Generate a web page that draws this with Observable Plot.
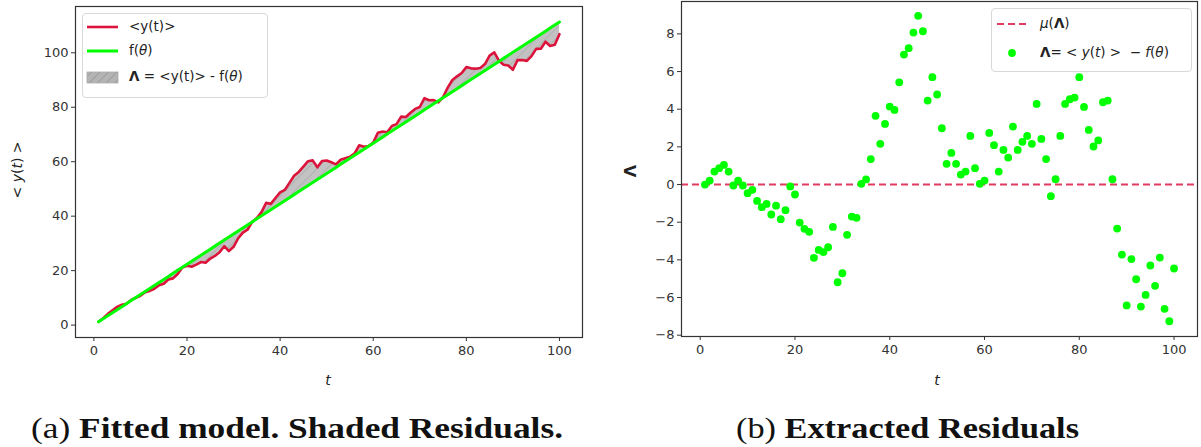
<!DOCTYPE html>
<html>
<head>
<meta charset="utf-8">
<script src="https://cdn.jsdelivr.net/npm/d3@7"></script>
<script src="https://cdn.jsdelivr.net/npm/@observablehq/plot@0.6"></script>
<style>
  html, body { margin: 0; padding: 0; background: #fff; }
  #wrap { position: relative; width: 1201px; height: 447px; overflow: hidden; font-family: "DejaVu Sans", sans-serif; color: #222; }
  .abs { position: absolute; }
  .legend { position: absolute; border: 1px solid #d8d8d8; border-radius: 4px; background: rgba(255,255,255,0.85); }
  .lt { position: absolute; font-size: 13.5px; white-space: nowrap; line-height: 1; }
  .cap { position: absolute; font-family: "Liberation Serif", serif; font-size: 29px; white-space: nowrap; line-height: 1; color: #111; transform-origin: 0 0; }
</style>
</head>
<body>
<div id="wrap"></div>
<script>
// ---- data ----
const tSteps = d3.range(1, 101);
// residuals Λ(t) = <y(t)> - f(θ)
const lambda = [
  0.00, 0.21, 0.69, 0.87, 1.04, 0.69, -0.05, 0.21, -0.05, -0.46,
  -0.28, -0.87, -1.20, -1.03, -1.59, -1.12, -1.84, -1.36, -0.10, -0.53,
  -2.02, -2.35, -2.51, -3.89, -3.47, -3.59, -3.33, -2.25, -5.19, -4.71,
  -2.67, -1.70, -1.77, 0.04, 0.27, 1.35, 3.65, 2.16, 3.22, 4.14,
  3.96, 5.43, 6.90, 7.24, 8.07, 8.96, 8.14, 4.46, 5.70, 4.78,
  2.99, 1.10, 1.68, 1.10, 0.53, 0.69, 2.58, 0.87, 0.04, 0.21,
  2.74, 2.09, 0.69, 1.84, 1.43, 3.08, 1.84, 2.27, 2.58, 2.16,
  4.28, 2.42, 1.35, -0.62, 0.28, 2.58, 4.28, 4.53, 4.62, 5.70,
  4.12, 2.90, 2.02, 2.34, 4.37, 4.46, 0.28, -2.34, -3.72, -6.42,
  -3.96, -5.03, -6.48, -5.86, -4.30, -5.38, -3.88, -6.60, -7.26, -4.46
];
// observed mean <y(t)>, panel (a)
const yMean = [
  1.20, 2.52, 4.12, 5.41, 6.69, 7.45, 7.82, 9.20, 10.05, 10.75,
  12.04, 12.56, 13.35, 14.63, 15.18, 16.76, 17.15, 18.75, 21.12, 21.80,
  21.42, 22.20, 23.16, 22.89, 24.42, 25.41, 26.78, 28.98, 27.15, 28.74,
  31.89, 33.97, 35.02, 37.94, 39.28, 41.47, 44.88, 44.51, 46.68, 48.71,
  49.64, 52.22, 54.81, 56.26, 58.20, 60.20, 60.49, 57.93, 60.28, 60.47,
  59.79, 59.01, 60.71, 61.24, 61.78, 63.05, 66.05, 65.46, 65.74, 67.02,
  70.66, 71.12, 70.84, 73.10, 73.80, 76.56, 76.43, 77.98, 79.40, 80.09,
  83.32, 82.57, 82.62, 81.76, 83.77, 87.18, 89.99, 91.36, 92.56, 94.75,
  94.28, 94.17, 94.41, 95.84, 98.98, 100.18, 97.11, 95.61, 95.34, 93.75,
  97.32, 97.36, 97.03, 98.76, 101.43, 101.46, 104.07, 102.47, 102.92, 106.83
];
const lambdaMean = [0];
const xTicks = [0, 20, 40, 60, 80, 100];
const yTicksA = [0, 20, 40, 60, 80, 100];
const yTicksB = [-8, -6, -4, -2, 0, 2, 4, 6, 8];

const rows = tSteps.map((t, i) => ({t, y: yMean[i], lam: lambda[i], f: yMean[i] - lambda[i]}));

const wrap = document.getElementById("wrap");
const axisStyle = {fontFamily: "DejaVu Sans", fontSize: "13px", color: "#333", background: "transparent", overflow: "visible"};

// ---- panel (a) ----
const plotA = Plot.plot({
  width: 600, height: 400,
  marginLeft: 75, marginRight: 18, marginTop: 6, marginBottom: 63,
  style: axisStyle,
  x: {domain: [-3.95, 104.95]},
  y: {domain: [-4.56, 117.0]},
  marks: [
    Plot.areaY(rows, {x: "t", y1: "y", y2: "f", fill: "url(#hatchA)", curve: "linear"}),
    Plot.line(rows, {x: "t", y: "y", stroke: "crimson", strokeWidth: 2.6}),
    Plot.line(rows, {x: "t", y: "f", stroke: "#00ff00", strokeWidth: 3}),
    Plot.frame({stroke: "#333", strokeWidth: 1.2}),
    Plot.axisX({ticks: xTicks, tickSize: 4, tickPadding: 4, label: null, stroke: "#333"}),
    Plot.axisY({ticks: yTicksA, tickSize: 4, tickPadding: 3, label: null, stroke: "#333"})
  ]
});
plotA.style.position = "absolute"; plotA.style.left = "0px"; plotA.style.top = "0px";
wrap.appendChild(plotA);

// ---- panel (b) ----
const plotB = Plot.plot({
  width: 601, height: 400,
  marginLeft: 81, marginRight: 4, marginTop: 1, marginBottom: 64,
  style: axisStyle,
  x: {domain: [-3.95, 104.95]},
  y: {domain: [-8.07, 9.72]},
  marks: [
    Plot.ruleY(lambdaMean, {stroke: "#e23b62", strokeWidth: 2, strokeDasharray: "7,4"}),
    Plot.dot(rows, {x: "t", y: "lam", r: 3.9, fill: "#00ff00", stroke: "none"}),
    Plot.frame({stroke: "#333", strokeWidth: 1.2}),
    Plot.axisX({ticks: xTicks, tickSize: 4, tickPadding: 4, label: null, stroke: "#333"}),
    Plot.axisY({ticks: yTicksB, tickSize: 4, tickPadding: 3, label: null, stroke: "#333", tickFormat: d => d < 0 ? "\u2212" + Math.abs(d) : String(d)})
  ]
});
plotB.style.position = "absolute"; plotB.style.left = "600px"; plotB.style.top = "0px";
wrap.appendChild(plotB);

// hatch pattern defs
function addHatch(svg, id, bg, line) {
  const ns = "http://www.w3.org/2000/svg";
  const defs = document.createElementNS(ns, "defs");
  defs.innerHTML = `<pattern id="${id}" patternUnits="userSpaceOnUse" width="7" height="7" patternTransform="rotate(45)">
    <rect width="7" height="7" fill="${bg}"/><line x1="0" y1="0" x2="0" y2="7" stroke="${line}" stroke-width="1.2"/></pattern>`;
  svg.insertBefore(defs, svg.firstChild);
}
addHatch(plotA, "hatchA", "#c2c2c2", "#a6a6a6");

// ---- axis labels ----
function addDiv(html, css) {
  const d = document.createElement("div");
  d.className = "abs";
  d.innerHTML = html;
  Object.assign(d.style, css);
  wrap.appendChild(d);
  return d;
}
addDiv("&lt; <i>y</i>(<i>t</i>) &gt;", {left: "17px", top: "170px", transform: "translate(-50%,-50%) rotate(-90deg)", fontSize: "14px", whiteSpace: "nowrap", color: "#222"});
addDiv("<b>\u039B</b>", {left: "630px", top: "171px", transform: "translate(-50%,-50%) rotate(-90deg)", fontSize: "16px", whiteSpace: "nowrap", color: "#222"});
addDiv("<i>t</i>", {left: "328px", top: "380px", transform: "translate(-50%,-50%)", fontSize: "14px", color: "#222"});
addDiv("<i>t</i>", {left: "937px", top: "380px", transform: "translate(-50%,-50%)", fontSize: "14px", color: "#222"});

// ---- legend (a) ----
addDiv(`<div class="legend" style="left:0;top:0;width:184px;height:83px;"></div>
<svg style="position:absolute;left:0;top:0;overflow:visible" width="184" height="84">
  <defs><pattern id="hatchL" patternUnits="userSpaceOnUse" width="6" height="6" patternTransform="rotate(45)">
    <rect width="6" height="6" fill="#b4b4b4"/><line x1="0" y1="0" x2="0" y2="6" stroke="#8e8e8e" stroke-width="1.2"/></pattern></defs>
  <line x1="5" x2="36" y1="14" y2="14" stroke="crimson" stroke-width="2.6"/>
  <line x1="5" x2="36" y1="38" y2="38" stroke="#00ff00" stroke-width="3"/>
  <rect x="5" y="59" width="31" height="11" fill="url(#hatchL)" stroke="#aaa" stroke-width="0.8"/>
</svg>
<div class="lt" style="left:47px;top:7px">&lt;y(t)&gt;</div>
<div class="lt" style="left:47px;top:31px">f(<i>\u03B8</i>)</div>
<div class="lt" style="left:47px;top:57px"><b>\u039B</b> = &lt;y(t)&gt; - f(<i>\u03B8</i>)</div>`,
 {left: "82px", top: "13px", width: "186px", height: "85px"});

// ---- legend (b) ----
addDiv(`<div class="legend" style="left:0;top:0;width:199px;height:62px;"></div>
<svg style="position:absolute;left:0;top:0;overflow:visible" width="200" height="63">
  <line x1="6" x2="37" y1="16" y2="16" stroke="#e23b62" stroke-width="2" stroke-dasharray="7,4"/>
  <circle cx="21" cy="45" r="3.9" fill="#00ff00"/>
</svg>
<div class="lt" style="left:49px;top:9px"><i>\u03BC</i>(<b>\u039B</b>)</div>
<div class="lt" style="left:49px;top:38px"><b>\u039B</b>= &lt; <i>y</i>(<i>t</i>) &gt; &nbsp;\u2212 <i>f</i>(<i>\u03B8</i>)</div>`,
 {left: "991px", top: "8px", width: "200px", height: "63px"});

// ---- captions (centred under each panel) ----
function addCaption(html, left, width) {
  const c = document.createElement("div");
  c.className = "cap";
  c.style.left = left + "px"; c.style.top = "414px";
  c.innerHTML = html;
  wrap.appendChild(c);
  const w = c.getBoundingClientRect().width;
  c.style.transform = `scaleX(${width / w})`;
}
addCaption("(a) <b>Fitted model. Shaded Residuals.</b>", 31, 532);
addCaption("(b) <b>Extracted Residuals</b>", 736, 343);
</script>
</body>
</html>
